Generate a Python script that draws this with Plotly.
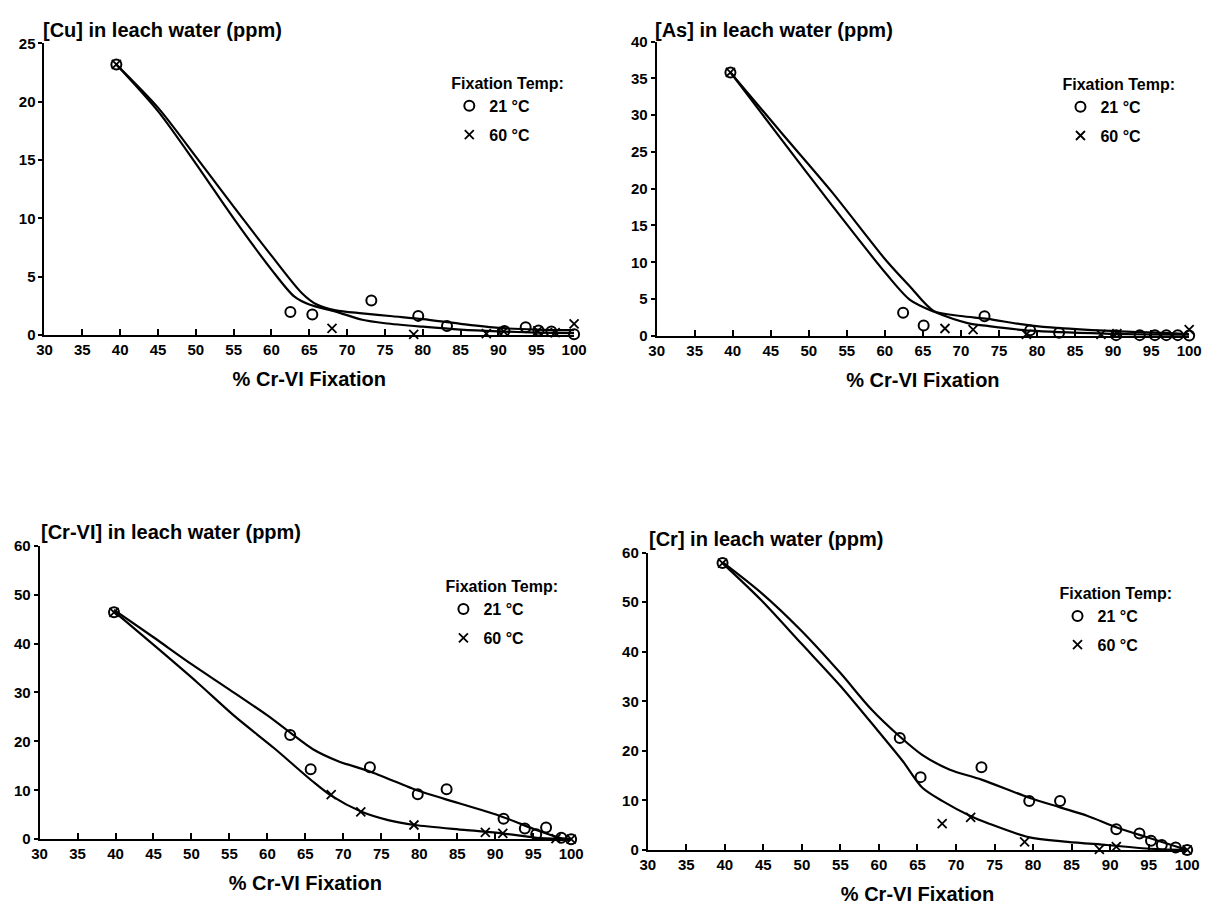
import plotly.graph_objects as go

# The page body has an 8px default margin; lay the figure out inside it.
PAGE_W, PAGE_H, OFF = 1220, 916, 8
FW, FH = PAGE_W - 2 * OFF, PAGE_H - 2 * OFF
FONT = "Liberation Sans, Arial, Helvetica, sans-serif"


def fx(px):
    return (px - OFF) / FW


def fy(py):
    return 1 - (py - OFF) / FH


x_title = "% Cr-VI Fixation"
legend_title = "Fixation Temp:"
series_names = ["21 °C", "60 °C"]
x_ticks = [30, 35, 40, 45, 50, 55, 60, 65, 70, 75, 80, 85, 90, 95, 100]

# ---------------- [Cu] ----------------
cu_title = "[Cu] in leach water (ppm)"
cu_yticks = [0, 5, 10, 15, 20, 25]
cu_x21 = [39.5, 62.5, 65.4, 73.2, 79.4, 83.2, 90.8, 93.6, 95.3, 97.0, 100]
cu_y21 = [23.2, 1.97, 1.74, 2.95, 1.63, 0.76, 0.34, 0.65, 0.37, 0.3, 0.05]
cu_x60 = [39.5, 68.0, 78.8, 88.4, 90.7, 95.2, 97.5, 100]
cu_y60 = [23.2, 0.56, 0.05, 0.1, 0.3, 0.35, 0.2, 0.95]
cu_fit21_x = [39.5, 45, 50, 55, 60, 64, 66, 68.5, 72, 76, 80, 85, 90, 95, 100]
cu_fit21_y = [23.2, 19.5, 15.3, 11.0, 6.8, 3.6, 2.6, 2.1, 1.85, 1.6, 1.35, 0.95, 0.6, 0.45, 0.4]
cu_fit60_x = [39.5, 45, 50, 55, 60, 63, 65, 68.5, 72, 75, 80, 85, 90, 95, 100]
cu_fit60_y = [23.2, 19.2, 14.7, 10.0, 5.6, 3.3, 2.6, 2.0, 1.3, 1.0, 0.7, 0.45, 0.3, 0.2, 0.15]

# ---------------- [As] ----------------
as_title = "[As] in leach water (ppm)"
as_yticks = [0, 5, 10, 15, 20, 25, 30, 35, 40]
as_x21 = [39.7, 62.4, 65.1, 73.1, 79.1, 82.9, 90.4, 93.5, 95.5, 97.0, 98.5, 100]
as_y21 = [35.8, 3.15, 1.4, 2.67, 0.75, 0.42, 0.1, 0.1, 0.1, 0.1, 0.1, 0.05]
as_x60 = [39.7, 67.9, 71.6, 78.6, 88.4, 90.5, 100]
as_y60 = [35.8, 1.0, 0.85, 0.2, 0.2, 0.3, 0.85]
as_fit21_x = [39.7, 46.4, 53.0, 60.2, 63.3, 66.4, 70.0, 73.5, 79.2, 88.9, 100]
as_fit21_y = [35.8, 27.6, 19.6, 10.2, 6.7, 3.4, 2.7, 2.3, 1.4, 0.7, 0.25]
as_fit60_x = [39.7, 46.4, 53.0, 60.2, 63.3, 66.4, 71.0, 73.5, 79.2, 88.9, 100]
as_fit60_y = [35.8, 26.7, 17.8, 8.4, 4.9, 3.3, 1.7, 1.35, 0.7, 0.3, 0.1]

# ---------------- [Cr-VI] ----------------
cr6_title = "[Cr-VI] in leach water (ppm)"
cr6_yticks = [0, 10, 20, 30, 40, 50, 60]
cr6_x21 = [39.8, 63.0, 65.7, 73.5, 79.8, 83.6, 91.1, 93.9, 95.4, 96.7, 98.7, 100]
cr6_y21 = [46.4, 21.3, 14.3, 14.7, 9.2, 10.2, 4.2, 2.2, 1.0, 2.4, 0.3, 0.0]
cr6_x60 = [39.8, 68.4, 72.3, 79.3, 88.7, 91.0, 98.0, 100]
cr6_y60 = [46.4, 9.1, 5.6, 2.9, 1.4, 1.2, 0.1, 0.0]
cr6_fit21_x = [39.8, 45.0, 50.0, 55.0, 60.0, 63.0, 66.0, 69.4, 73.4, 79.9, 83.4, 90.9, 95.4, 98.5, 100]
cr6_fit21_y = [46.9, 41.3, 35.8, 30.6, 25.3, 21.8, 18.4, 15.9, 13.9, 9.9, 8.2, 4.6, 1.9, 0.3, 0.0]
cr6_fit60_x = [39.8, 45.8, 50.8, 55.8, 60.9, 65.9, 68.4, 72.4, 75.9, 79.4, 85.9, 90.9, 95.9, 100]
cr6_fit60_y = [46.6, 38.7, 32.0, 25.0, 18.6, 11.9, 8.9, 5.6, 3.9, 2.9, 1.9, 1.2, 0.2, 0.0]

# ---------------- [Cr] ----------------
cr_title = "[Cr] in leach water (ppm)"
cr_yticks = [0, 10, 20, 30, 40, 50, 60]
cr_x21 = [39.7, 62.7, 65.4, 73.3, 79.5, 83.5, 90.8, 93.8, 95.3, 96.7, 98.5, 100]
cr_y21 = [57.9, 22.6, 14.7, 16.7, 9.9, 9.9, 4.2, 3.3, 1.85, 1.0, 0.5, 0.0]
cr_x60 = [39.7, 68.2, 71.9, 78.9, 88.6, 90.8, 100]
cr_y60 = [57.9, 5.3, 6.6, 1.65, 0.1, 0.66, 0.0]
cr_fit21_x = [39.7, 44.8, 49.9, 55.0, 59.0, 62.7, 65.6, 69.2, 73.3, 79.4, 83.5, 87.0, 90.8, 94.7, 100]
cr_fit21_y = [58.1, 51.8, 44.3, 35.7, 28.4, 22.9, 19.2, 16.2, 14.2, 10.6, 8.6, 6.9, 4.6, 2.6, 0.0]
cr_fit60_x = [39.7, 44.8, 49.9, 55.0, 60.0, 63.1, 65.6, 68.2, 71.8, 74.3, 79.4, 84.5, 89.6, 94.7, 100]
cr_fit60_y = [57.9, 50.3, 41.7, 33.1, 23.8, 17.9, 12.6, 9.9, 6.9, 5.3, 2.6, 1.65, 1.0, 0.3, 0.0]

panels = [
    dict(title=cu_title, yticks=cu_yticks, x21=cu_x21, y21=cu_y21, x60=cu_x60, y60=cu_y60,
         f21x=cu_fit21_x, f21y=cu_fit21_y, f60x=cu_fit60_x, f60y=cu_fit60_y,
         px=(37, 576), py=(332, 35), title_px=(33, 21), leg_px=(449, 60)),
    dict(title=as_title, yticks=as_yticks, x21=as_x21, y21=as_y21, x60=as_x60, y60=as_y60,
         f21x=as_fit21_x, f21y=as_fit21_y, f60x=as_fit60_x, f60y=as_fit60_y,
         px=(660, 1202), py=(333, 33), title_px=(656, 21), leg_px=(1071, 61)),
    dict(title=cr6_title, yticks=cr6_yticks, x21=cr6_x21, y21=cr6_y21, x60=cr6_x60, y60=cr6_y60,
         f21x=cr6_fit21_x, f21y=cr6_fit21_y, f60x=cr6_fit60_x, f60y=cr6_fit60_y,
         px=(32, 573), py=(846, 547), title_px=(31, 533), leg_px=(443, 573)),
    dict(title=cr_title, yticks=cr_yticks, x21=cr_x21, y21=cr_y21, x60=cr_x60, y60=cr_y60,
         f21x=cr_fit21_x, f21y=cr_fit21_y, f60x=cr_fit60_x, f60y=cr_fit60_y,
         px=(651, 1200), py=(857, 554), title_px=(650, 540), leg_px=(1068, 580)),
]

fig = go.Figure()
layout = dict(
    width=FW, height=FH,
    margin=dict(l=0, r=0, t=0, b=0),
    paper_bgcolor="white", plot_bgcolor="white",
    font=dict(family=FONT, color="black", size=15),
    annotations=[],
)

for i, p in enumerate(panels):
    n = i + 1
    xa = "x" if n == 1 else f"x{n}"
    ya = "y" if n == 1 else f"y{n}"
    leg = "legend" if n == 1 else f"legend{n}"
    common = dict(xaxis=xa, yaxis=ya, cliponaxis=False)
    for cx, cy in ((p["f21x"], p["f21y"]), (p["f60x"], p["f60y"])):
        fig.add_trace(go.Scatter(x=cx, y=cy, mode="lines", showlegend=False,
                                 line=dict(color="black", width=2.2, shape="spline", smoothing=0.8),
                                 hoverinfo="skip", **common))
    fig.add_trace(go.Scatter(x=p["x21"], y=p["y21"], mode="markers", name=f"<b>{series_names[0]}</b>",
                             legend=leg, legendgroup=f"g21_{n}",
                             marker=dict(symbol="circle-open", size=10, color="black", line=dict(width=2)),
                             **common))
    fig.add_trace(go.Scatter(x=p["x60"], y=p["y60"], mode="markers", name=f"<b>{series_names[1]}</b>",
                             legend=leg, legendgroup=f"g60_{n}",
                             marker=dict(symbol="x-thin-open", size=9, color="black",
                                         line=dict(width=1.8, color="black")),
                             **common))

    x0, x1 = p["px"]
    yb, yt = p["py"]
    sfx = "" if n == 1 else str(n)
    layout[f"xaxis{sfx}"] = dict(
        domain=[fx(x0), fx(x1)], anchor=ya, range=[30, 100],
        tickmode="array", tickvals=x_ticks, ticktext=[str(t) for t in x_ticks],
        ticks="inside", ticklen=6, tickwidth=1.5, tickcolor="black",
        showline=True, linecolor="black", linewidth=2, showgrid=False, zeroline=False,
        tickfont=dict(size=15, family=FONT, weight="bold"),
        title=dict(text=f"<b>{x_title}</b>", font=dict(size=20, family=FONT), standoff=15),
    )
    layout[f"yaxis{sfx}"] = dict(
        domain=[fy(yb), fy(yt)], anchor=xa, range=[0, p["yticks"][-1]],
        tickmode="array", tickvals=p["yticks"], ticktext=[str(t) for t in p["yticks"]],
        ticks="outside", ticklen=4, tickwidth=1.5, tickcolor="black",
        showline=True, linecolor="black", linewidth=2, showgrid=False, zeroline=False,
        tickfont=dict(size=15, family=FONT, weight="bold"),
    )
    tx, ty = p["title_px"]
    layout["annotations"].append(dict(
        text=f"<b>{p['title']}</b>", xref="paper", yref="paper", x=fx(tx), y=fy(ty),
        xanchor="left", yanchor="middle", showarrow=False, font=dict(size=20, family=FONT),
    ))
    lx, ly = p["leg_px"]
    layout[leg] = dict(
        x=fx(lx), y=fy(ly), xanchor="left", yanchor="top",
        title=dict(text=f"<b>{legend_title}</b>", side="top", font=dict(size=16, family=FONT)),
        font=dict(size=16, family=FONT), bgcolor="rgba(0,0,0,0)", borderwidth=0,
        tracegroupgap=5, itemwidth=30,
    )

fig.update_layout(**layout)
fig.write_html("out.html")
